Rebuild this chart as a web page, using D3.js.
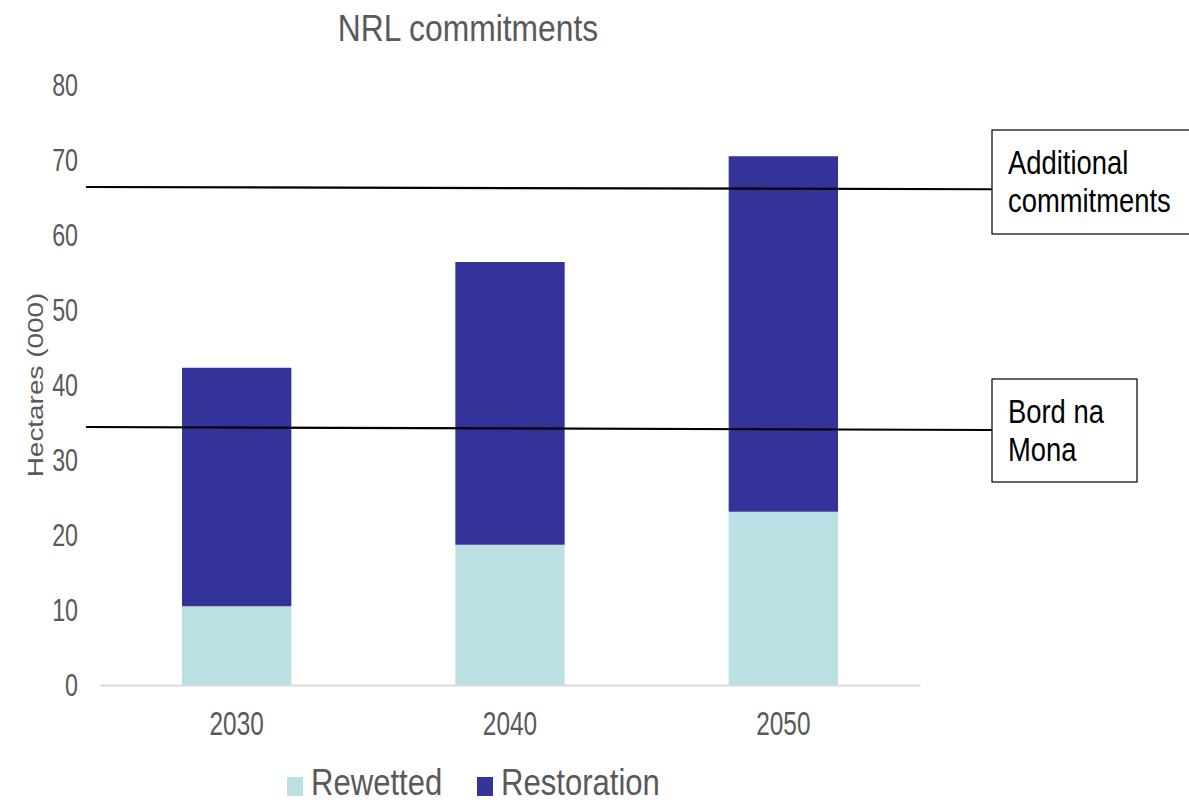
<!DOCTYPE html>
<html>
<head>
<meta charset="utf-8">
<script src="https://cdn.jsdelivr.net/npm/d3@7"></script>
<style>
  html, body { margin: 0; padding: 0; background: #fff; }
  svg { display: block; font-family: "Liberation Sans", Arial, sans-serif; }
</style>
</head>
<body>
<svg id="chart" width="1189" height="803"></svg>
<script>
// Years on the category axis
const categories = ["2030", "2040", "2050"];
// Hectares (000) per year, stacked bottom to top
const rewetted = [10.5, 18.7, 23.1];
const restoration = [31.8, 37.7, 47.4];
// Y-axis tick labels
const yTicks = [0, 10, 20, 30, 40, 50, 60, 70, 80];
// Reference thresholds: value at the left end and at the right end of each line
const refNames = ["Additional commitments", "Bord na Mona"];
const refStart = [66.4, 34.4];
const refEnd = [66.1, 34.0];

const seriesNames = ["Rewetted", "Restoration"];
const seriesColors = ["#bbe0e3", "#343399"];
const textGray = "#595959";

const svg = d3.select("#chart");

const x = d3.scaleBand().domain(categories).range([100, 920])
  .paddingInner(0.6).paddingOuter(0.3);
const y = d3.scaleLinear().domain([0, 80]).range([685, 85]);

// helper: text squeezed horizontally around its anchor point
function squeezedText(g, px, py, str, opts) {
  return g.append("text")
    .attr("transform", `translate(${px},${py}) scale(${opts.sx},1)`)
    .attr("font-size", opts.size)
    .attr("fill", opts.fill || textGray)
    .attr("text-anchor", opts.anchor || "start")
    .attr("dominant-baseline", opts.baseline || "auto")
    .text(str);
}

// stacked bars
const rows = categories.map((c, i) => ({ cat: c, Rewetted: rewetted[i], Restoration: restoration[i] }));
const stacked = d3.stack().keys(seriesNames)(rows);

svg.append("g").selectAll("g")
  .data(stacked)
  .join("g")
  .attr("fill", (d, i) => seriesColors[i])
  .selectAll("rect")
  .data(d => d)
  .join("rect")
  .attr("x", d => x(d.data.cat))
  .attr("width", x.bandwidth())
  .attr("y", d => y(d[1]))
  .attr("height", d => y(d[0]) - y(d[1]));

// baseline axis
const xAxis = svg.append("g").attr("transform", `translate(0,${y(0)})`)
  .call(d3.axisBottom(x).tickSize(0).tickFormat(""));
xAxis.select(".domain").attr("stroke", "#d9d9d9").attr("stroke-width", 2);

// y tick labels
const yg = svg.append("g");
yTicks.forEach(v => {
  squeezedText(yg, 78, y(v), String(v), { size: 31, sx: 0.75, anchor: "end", baseline: "central" });
});

// x tick labels
const xg = svg.append("g");
categories.forEach(c => {
  squeezedText(xg, x(c) + x.bandwidth() / 2, 724, c, { size: 33, sx: 0.74, anchor: "middle", baseline: "central" });
});

// y-axis title (rotated, stretched along its length)
svg.append("text")
  .attr("transform", "translate(43,385) rotate(-90) scale(1.27,1)")
  .attr("font-size", 22)
  .attr("fill", textGray)
  .attr("text-anchor", "middle")
  .text("Hectares (000)");

// chart title
squeezedText(svg, 468, 28, "NRL commitments", { size: 37, sx: 0.86, anchor: "middle", baseline: "central" });

// reference lines with boxed labels
const boxes = [
  { x: 992, y: 130, w: 200, h: 104, lines: ["Additional", "commitments"] },
  { x: 992, y: 379, w: 145, h: 103, lines: ["Bord na", "Mona"] }
];
const refG = svg.append("g");
refNames.forEach((name, i) => {
  const b = boxes[i];
  refG.append("line")
    .attr("x1", x.range()[0] - 14).attr("x2", b.x)
    .attr("y1", y(refStart[i])).attr("y2", y(refEnd[i]))
    .attr("stroke", "#000").attr("stroke-width", 2.2);
  refG.append("rect")
    .attr("x", b.x).attr("y", b.y).attr("width", b.w).attr("height", b.h)
    .attr("fill", "#fff").attr("stroke", "#000").attr("stroke-width", 1.2);
  b.lines.forEach((ln, j) => {
    squeezedText(refG, b.x + 16, b.y + 44 + j * 38, ln, { size: 33, sx: 0.83, fill: "#000" });
  });
});

// legend
const legend = svg.append("g");
const legendX = [287, 477];
seriesNames.forEach((name, i) => {
  legend.append("rect")
    .attr("x", legendX[i]).attr("y", 777).attr("width", 16).attr("height", 19)
    .attr("fill", seriesColors[i]);
  squeezedText(legend, legendX[i] + 24, 795, name, { size: 37, sx: 0.84, anchor: "start" });
});
</script>
</body>
</html>
